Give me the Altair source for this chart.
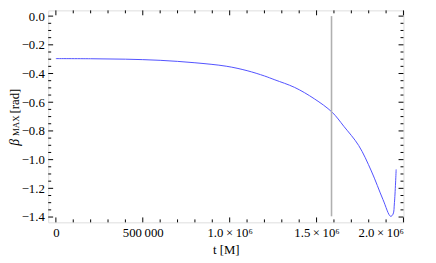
import altair as alt
import pandas as pd

# --- data ---
t_vals = [0, 200000, 400000, 600000, 800000, 980000, 1100000, 1200000, 1260000,
          1374000, 1487000, 1589000, 1657000, 1742000, 1815000, 1882000, 1926000,
          1940000, 1948000, 1958000]
beta_vals = [-0.296, -0.297, -0.300, -0.308, -0.325, -0.349, -0.380, -0.417, -0.444,
             -0.497, -0.576, -0.669, -0.768, -0.901, -1.079, -1.278, -1.395,
             -1.380, -1.300, -1.068]

marker_t = [1586000]
marker_top = [0.0]
marker_bottom = [-1.395]

x_major = [0, 500000, 1000000, 1500000, 2000000]
x_minor = [i * 100000 for i in range(21) if i % 5 != 0]
y_major = [0.0, -0.2, -0.4, -0.6, -0.8, -1.0, -1.2, -1.4]
y_minor = [round(-0.05 * i, 2) for i in range(29) if i % 4 != 0]

W, H = 362, 216
FONT = "Liberation Serif"

xs = alt.Scale(domain=[-44000, 2000000], nice=False, zero=False)
ys = alt.Scale(domain=[-1.437, 0.04], nice=False, zero=False)

curve_df = pd.DataFrame({"t": t_vals, "beta": beta_vals})
marker_df = pd.DataFrame({"t": marker_t, "y1": marker_top, "y2": marker_bottom})
xmaj_df = pd.DataFrame({"t": x_major})
xmin_df = pd.DataFrame({"t": x_minor})
ymaj_df = pd.DataFrame({"v": y_major})
ymin_df = pd.DataFrame({"v": y_minor})

x_axis = alt.Axis(
    values=x_major,
    labelExpr="datum.value == 0 ? '0' : datum.value == 500000 ? '500\u2009000' : format(datum.value / 1000000, '.1f') + '\u2009×\u200910⁶'",
    ticks=False, domain=False, grid=False, labelOverlap=False, labelBound=False,
    labelFont=FONT, labelFontSize=13, labelColor="black", labelPadding=4,
    title="t [M]", titleFont=FONT, titleFontSize=13, titleFontWeight="normal",
    titleColor="black", titlePadding=5,
)
y_axis = alt.Axis(
    values=y_major,
    labelExpr="replace(format(datum.value, '.1f'), '-', '−')",
    ticks=False, domain=False, grid=False, labelOverlap=False, labelBound=False,
    labelFont=FONT, labelFontSize=13, labelColor="black", labelPadding=4,
    title=None,
)

curve = alt.Chart(curve_df).mark_line(color="#5050ff", strokeWidth=1, interpolate="catmull-rom").encode(
    x=alt.X("t:Q", scale=xs, axis=x_axis),
    y=alt.Y("beta:Q", scale=ys, axis=y_axis),
)

marker = alt.Chart(marker_df).mark_rule(color="#b0b0b0", strokeWidth=1.6).encode(
    x=alt.X("t:Q", scale=xs, axis=x_axis),
    y=alt.Y("y1:Q", scale=ys, axis=y_axis),
    y2="y2:Q",
)

MAJ, MIN = 5, 3

def xticks(df, length):
    bottom = alt.Chart(df).mark_rule(color="black", strokeWidth=1).encode(
        x=alt.X("t:Q", scale=xs, axis=x_axis), y=alt.value(H), y2=alt.value(H - length))
    top = alt.Chart(df).mark_rule(color="black", strokeWidth=1).encode(
        x=alt.X("t:Q", scale=xs, axis=x_axis), y=alt.value(0), y2=alt.value(length))
    return [bottom, top]

def yticks(df, length):
    left = alt.Chart(df).mark_rule(color="black", strokeWidth=1).encode(
        y=alt.Y("v:Q", scale=ys, axis=y_axis), x=alt.value(0), x2=alt.value(length))
    right = alt.Chart(df).mark_rule(color="black", strokeWidth=1).encode(
        y=alt.Y("v:Q", scale=ys, axis=y_axis), x=alt.value(W), x2=alt.value(W - length))
    return [left, right]

one = alt.Data(values=[{"k": 1}])
title_beta = alt.Chart(one).mark_text(
    angle=270, align="left", baseline="middle", font=FONT, fontStyle="italic",
    fontSize=14, color="black").encode(
    x=alt.value(-34), y=alt.value(138), text=alt.value("β"))
title_max = alt.Chart(one).mark_text(
    angle=270, align="left", baseline="middle", font=FONT,
    fontSize=9, color="black").encode(
    x=alt.value(-33), y=alt.value(128), text=alt.value("MAX"))
title_rad = alt.Chart(one).mark_text(
    angle=270, align="left", baseline="middle", font=FONT,
    fontSize=13, color="black").encode(
    x=alt.value(-34), y=alt.value(105), text=alt.value("[rad]"))

layers = [curve, marker] + xticks(xmaj_df, MAJ) + xticks(xmin_df, MIN) \
    + yticks(ymaj_df, MAJ) + yticks(ymin_df, MIN) + [title_beta, title_max, title_rad]

chart = alt.layer(*layers).properties(
    width=W, height=H,
    autosize=alt.AutoSizeParams(type="none"),
    padding={"left": 41, "top": 0, "right": 25, "bottom": 39},
).configure_view(
    stroke="black", strokeWidth=1.3
).configure(background="white")

chart.save("out.html", embed_options={"renderer": "svg", "actions": False})
